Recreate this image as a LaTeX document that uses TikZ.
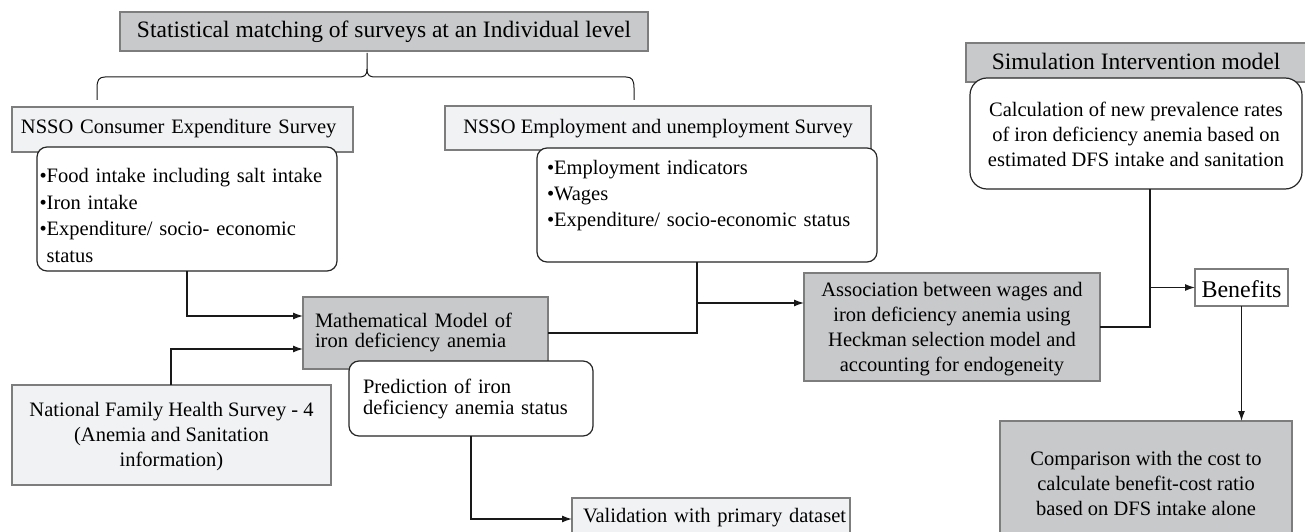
\documentclass[tikz,border=0pt]{standalone}
\usepackage{fontspec}
\setmainfont{Liberation Serif}
\usetikzlibrary{arrows.meta,calc}
\definecolor{darkfill}{RGB}{200,201,203}
\definecolor{lightfill}{RGB}{241,242,244}
\definecolor{boxline}{RGB}{125,125,125}
\newcommand{\myhi}[1]{\rule{0pt}{#1pt}}
\newcommand{\mylo}[1]{\rule[-#1pt]{0pt}{#1pt}}
\tikzset{
  base/.style={inner sep=0pt, outer sep=0pt, anchor=north west, line width=1.1pt,
    font=\fontsize{20.5}{25}\selectfont},
  gbox/.style={base, draw=boxline, fill=darkfill},
  lbox/.style={base, draw=boxline, fill=lightfill},
  wbox/.style={base, draw=boxline, fill=white},
  rbox/.style={base, draw=black!85, fill=white, line width=1.2pt, rounded corners=10pt},
  big/.style={font=\fontsize{23.5}{28}\selectfont},
  conn/.style={line width=1.3pt, draw=black!90},
  arr/.style={conn, -{Latex[length=10pt,width=7pt]}},
}
\begin{document}
\begin{tikzpicture}[x=1pt,y=-1pt]
\useasboundingbox (0,0) rectangle (1305,532);
\clip (0,0) rectangle (1305,532);

% top title
\node[gbox, big, minimum width=528pt, minimum height=39pt] (title) at (120,12)
  {\myhi{18}Statistical matching of surveys at an Individual level\mylo{5}};

% brace
\coordinate (bt) at (367,53);
\draw[conn, line width=1pt] (bt) -- (367,69) .. controls (367,76) and (364,77) .. (358,77)
  -- (105,77) .. controls (99,77) and (97,80) .. (97,88) -- (97,100);
\draw[conn, line width=1pt] (367,69) .. controls (367,76) and (370,77) .. (376,77)
  -- (626,77) .. controls (632,77) and (634,80) .. (634,88) -- (634,100);

% survey boxes
\node[lbox, minimum width=341pt, minimum height=45pt, text width=341pt, align=left] (ces) at (12,107)
  {\hspace*{9pt}\myhi{14}NSSO Consumer Expenditure Survey\mylo{7}};
\node[lbox, minimum width=426pt, minimum height=44pt, align=center] (eus) at (445,106)
  {\myhi{16}NSSO Employment and unemployment Survey\mylo{4}};

\node[rbox, minimum width=300pt, minimum height=124pt, inner xsep=2.5pt, text width=295pt, align=left,
  font=\fontsize{20.5}{26.5}\selectfont] (box1) at (37,147)
  {\myhi{27.5}•Food intake including salt intake\\•Iron intake\\•Expenditure/ socio- economic\\\hspace*{7.2pt}status};

\node[rbox, minimum width=340pt, minimum height=114pt, inner xsep=10pt, text width=320pt, align=left,
  font=\fontsize{20.5}{26}\selectfont] (box2) at (537,148)
  {\myhi{20}•Employment indicators\\•Wages\\•Expenditure/ socio-economic status\mylo{30}};

% simulation
\node[gbox, big, minimum width=340pt, minimum height=39pt] (sim) at (966,43)
  {\myhi{18}Simulation Intervention model\mylo{3}};
\node[rbox, rounded corners=17pt, minimum width=332pt, minimum height=111pt, align=center] (box3) at (970,78)
  {\myhi{20}Calculation of new prevalence rates\\of iron deficiency anemia based on\\estimated DFS intake and sanitation\mylo{5}};

% model boxes
\node[gbox, minimum width=245pt, minimum height=72pt, inner xsep=12pt, text width=221pt, align=left,
  font=\fontsize{20.5}{19.5}\selectfont] (math) at (303,297)
  {\myhi{16}Mathematical Model of\\iron deficiency anemia\mylo{7}};
\node[rbox, minimum width=244pt, minimum height=75pt, inner xsep=14pt, text width=216pt, align=left,
  font=\fontsize{20.5}{21}\selectfont] (pred) at (349,361)
  {\myhi{16}Prediction of iron\\deficiency anemia status\mylo{4}};
\node[lbox, minimum width=319pt, minimum height=100pt, align=center] (nfhs) at (12,385)
  {\myhi{18}National Family Health Survey - 4\\(Anemia and Sanitation\\information)\mylo{4}};
\node[gbox, minimum width=296pt, minimum height=108pt, align=center] (assoc) at (804,273)
  {\myhi{18}Association between wages and\\iron deficiency anemia using\\Heckman selection model and\\accounting for endogeneity\mylo{5}};
\node[wbox, font=\fontsize{24}{28}\selectfont, minimum width=93pt, minimum height=37pt] (ben) at (1195,269)
  {\myhi{21}Benefits};
\node[gbox, minimum width=292pt, minimum height=124pt, align=center] (comp) at (1000,421)
  {\myhi{20}Comparison with the cost to\\calculate benefit-cost ratio\\based on DFS intake alone\mylo{6}};
\node[lbox, minimum width=278pt, minimum height=47pt, text width=278pt, align=left] (val) at (572,498)
  {\hspace*{11pt}\myhi{16}Validation with primary dataset\mylo{15}};

% connectors
\coordinate (j3) at (187,316);
\draw[arr] (j3 |- box1.south) -- (j3) -- (j3 -| math.west);
\coordinate (j4) at (171,349);
\draw[arr] (j4 |- nfhs.north) -- (j4) -- (j4 -| math.west);
\coordinate (j1) at (697,303);
\draw[conn] (j1 |- box2.south) -- (j1 |- math.east) -- (math.east);
\draw[arr] (j1) -- (j1 -| assoc.west);
\coordinate (j2) at (1150,289);
\draw[conn] (j2 |- box3.south) -- (j2 |- assoc.east) -- (assoc.east);
\draw[arr] (j2 |- ben.west) -- (ben.west);
\draw[arr] (ben.south) -- (ben.south |- comp.north);
\coordinate (j5) at (471,519);
\draw[arr] (j5 |- pred.south) -- (j5) -- (j5 -| val.west);
\end{tikzpicture}
\end{document}
